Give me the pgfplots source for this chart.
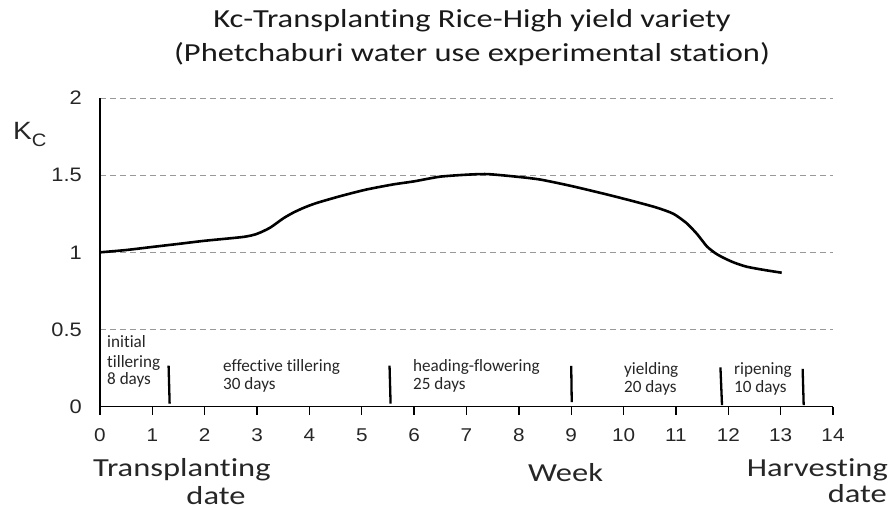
\documentclass[border=0pt]{standalone}
\usepackage{fontspec}
\setmainfont{Carlito}[FakeStretch=1.25, Ligatures={NoCommon}]
\newfontfamily\phasefont{Carlito}[FakeStretch=0.99, Ligatures={NoCommon}]
\newfontfamily\arial{Liberation Sans}[FakeStretch=1.12]
\usepackage{pgfplots}
\pgfplotsset{compat=1.18}
\begin{document}
\begin{tikzpicture}[x=1bp,y=1bp]
\path[use as bounding box] (-100,-103.3) rectangle (793,406.7);
\begin{axis}[
  scale only axis, width=733bp, height=308.7bp,
  at={(0,0)}, anchor=south west,
  xmin=0, xmax=14, ymin=0, ymax=2,
  axis x line*=bottom, axis y line*=left,
  axis line style={-, line width=1.3bp, black},
  xtick={0,1,...,14}, ytick={0,0.5,1,1.5,2},
  yticklabels={0,0.5,1,1.5,2},
  tick align=outside, major tick length=8bp,
  xtick style={line width=1.3bp, black},
  ytick style={draw=none},
  /pgf/number format/assume math mode=true,
  xticklabel style={font=\arial\fontsize{18.5bp}{18.5bp}\selectfont, text=black!85, anchor=base, yshift=-27bp, inner sep=0pt},
  yticklabel style={font=\arial\fontsize{19.5bp}{19.5bp}\selectfont, text=black!85, anchor=east, inner sep=0pt, xshift=-10bp},
  ymajorgrids, grid style={gray!80, dash pattern=on 6bp off 4bp, line width=0.9bp},
  clip=false,
]
\addplot[black, line width=2.6bp, smooth, tension=0.4] coordinates {
(0,1.0) (0.5,1.015) (1.0,1.035) (1.53,1.056) (2.0,1.075) (2.74,1.10) (3.0,1.12)
(3.25,1.16) (3.5,1.22) (3.69,1.257) (3.9,1.29) (4.14,1.32) (4.6,1.365) (5.09,1.407)
(5.6,1.44) (6.0,1.46) (6.49,1.49) (7.0,1.503) (7.39,1.507) (7.9,1.492) (8.4,1.472)
(9.0,1.43) (9.68,1.375) (10.2,1.33) (10.63,1.29) (10.95,1.25) (11.2,1.19) (11.4,1.12)
(11.59,1.039) (11.75,0.995) (11.9,0.966) (12.1,0.935) (12.35,0.907) (12.7,0.885) (13.02,0.868)
};
\addplot[black, line width=2.3bp] coordinates {(1.31,0.266) (1.33,0.02)};
\addplot[black, line width=2.3bp] coordinates {(5.53,0.266) (5.55,0.02)};
\addplot[black, line width=2.3bp] coordinates {(9.0,0.264) (9.01,0.03)};
\addplot[black, line width=2.3bp] coordinates {(11.85,0.255) (11.88,0.01)};
\addplot[black, line width=2.3bp] coordinates {(13.42,0.245) (13.44,0.01)};
\end{axis}
% title
\node[anchor=base, font=\fontsize{26bp}{26bp}\selectfont, text=black!90] at (372,378.7) {Kc-Transplanting Rice-High yield variety};
\node[anchor=base, font=\fontsize{26bp}{26bp}\selectfont, text=black!90] at (372,344.7) {(Phetchaburi water use experimental station)};
% Kc label
\node[anchor=base west, inner sep=0pt, text=black!85] at (-87,266.7) {\arial\fontsize{25bp}{25bp}\selectfont K\raisebox{-7bp}{\fontsize{18bp}{18bp}\selectfont C}};
% phase labels
\begin{scope}[every node/.style={anchor=base west, inner sep=0pt, font=\phasefont\fontsize{17.3bp}{17.3bp}\selectfont, text=black!85}]
\node at (7,58.7) {initial};
\node at (7,38.7) {tillering};
\node at (7,21.7) {8 days};
\node at (123,34.7) {effective tillering};
\node at (123,16.7) {30 days};
\node at (313,34.7) {heading-flowering};
\node at (313,16.7) {25 days};
\node at (524,31.7) {yielding};
\node at (524,13.7) {20 days};
\node at (634,31.7) {ripening};
\node at (634,13.7) {10 days};
\end{scope}
% bottom labels
\begin{scope}[every node/.style={inner sep=0pt, font=\fontsize{26bp}{26bp}\selectfont, text=black!85}]
\node[anchor=base west] at (-7,-70.3) {Transplanting};
\node[anchor=base] at (116,-98.3) {date};
\node[anchor=base west] at (428,-75.3) {Week};
\node[anchor=base east] at (788,-70.3) {Harvesting};
\node[anchor=base east] at (787,-96.3) {date};
\end{scope}
\end{tikzpicture}
\end{document}
